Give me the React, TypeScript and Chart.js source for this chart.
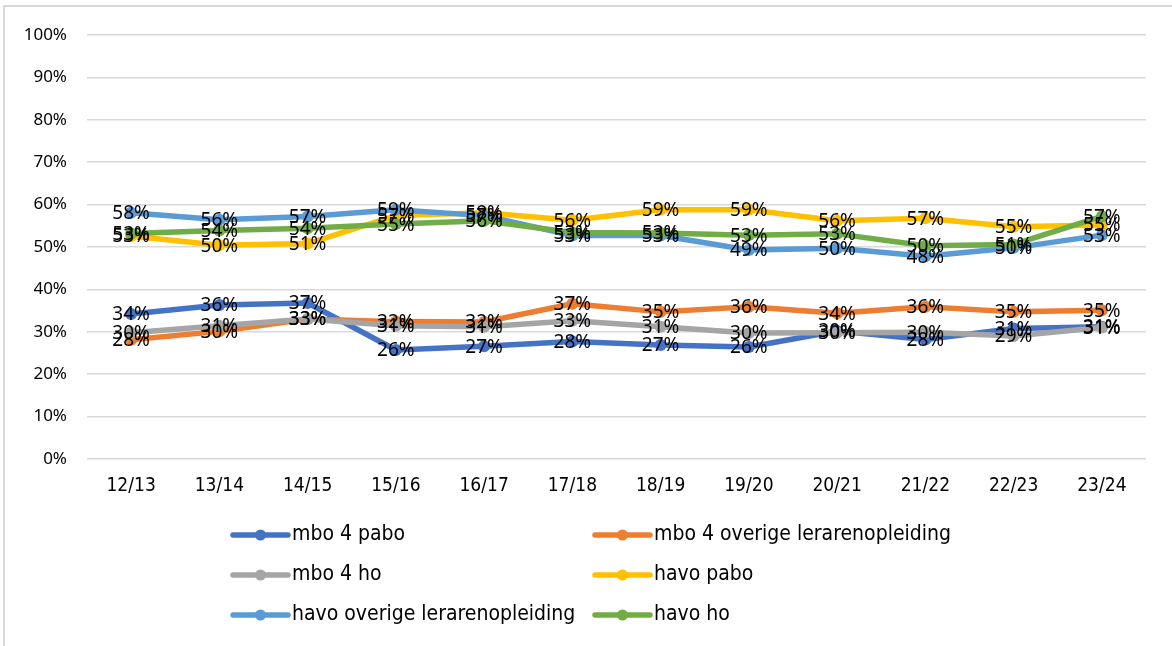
import React, { useEffect, useRef } from "react";
import { Chart, registerables } from "chart.js";

Chart.register(...registerables);

const categories = ["12/13", "13/14", "14/15", "15/16", "16/17", "17/18", "18/19", "19/20", "20/21", "21/22", "22/23", "23/24"];

const seriesNames = [
  "mbo 4 pabo",
  "mbo 4 overige lerarenopleiding",
  "mbo 4 ho",
  "havo pabo",
  "havo overige lerarenopleiding",
  "havo ho",
];

const mboPabo = [34.2, 36.3, 36.8, 25.7, 26.6, 27.7, 26.9, 26.4, 30.2, 28.2, 30.8, 31.2];
const mboOverig = [28.1, 30.1, 33.0, 32.4, 32.3, 36.6, 34.7, 35.9, 34.4, 35.9, 34.7, 35.1];
const mboHo = [29.8, 31.4, 33.0, 31.4, 31.2, 32.6, 31.2, 29.7, 29.8, 29.9, 29.0, 31.0];
const havoPabo = [52.6, 50.4, 50.8, 57.4, 58.1, 56.3, 58.8, 58.8, 56.2, 56.8, 54.8, 55.2];
const havoOverig = [58.1, 56.4, 57.2, 58.8, 57.4, 52.7, 52.7, 49.3, 49.7, 47.8, 49.8, 52.8];
const havoHo = [53.2, 53.9, 54.4, 55.4, 56.2, 53.4, 53.3, 52.8, 53.1, 50.3, 50.6, 57.2];

const seriesValues = [mboPabo, mboOverig, mboHo, havoPabo, havoOverig, havoHo];
const seriesColors = ["#4472C4", "#ED7D31", "#A5A5A5", "#FFC000", "#5B9BD5", "#70AD47"];

const yMin = 0;
const yMax = 100;
const yStep = 10;

const LABEL_FONT = '19px "Noto Sans"';
const LEGEND_FONT = '21px "DejaVu Sans Condensed"';

const dataLabelPlugin = {
  id: "dataLabels",
  afterDatasetsDraw(chart: any) {
    const ctx = chart.ctx;
    ctx.save();
    ctx.font = LABEL_FONT;
    ctx.fillStyle = "#000000";
    ctx.textAlign = "center";
    ctx.textBaseline = "middle";
    chart.data.datasets.forEach((ds: any, i: number) => {
      const meta = chart.getDatasetMeta(i);
      meta.data.forEach((pt: any, j: number) => {
        ctx.fillText(Math.round(ds.data[j]) + "%", pt.x, pt.y + 1);
      });
    });
    ctx.restore();
  },
};

const gridLegendPlugin = {
  id: "gridLegend",
  afterDraw(chart: any) {
    const ctx = chart.ctx;
    const colX = [233, 595];
    const rowY = [535, 575, 615];
    const lineLen = 55;
    ctx.save();
    chart.data.datasets.forEach((ds: any, i: number) => {
      const x = colX[i % 2];
      const y = rowY[Math.floor(i / 2)];
      ctx.strokeStyle = ds.borderColor;
      ctx.lineWidth = 5.5;
      ctx.lineCap = "round";
      ctx.beginPath();
      ctx.moveTo(x, y);
      ctx.lineTo(x + lineLen, y);
      ctx.stroke();
      ctx.fillStyle = ds.borderColor;
      ctx.beginPath();
      ctx.arc(x + lineLen / 2, y, 5.5, 0, Math.PI * 2);
      ctx.fill();
      ctx.fillStyle = "#000000";
      ctx.font = LEGEND_FONT;
      ctx.textAlign = "left";
      ctx.textBaseline = "middle";
      ctx.fillText(ds.label, x + lineLen + 4, y);
    });
    ctx.restore();
  },
};

export default function App() {
  const canvasRef = useRef<HTMLCanvasElement | null>(null);

  useEffect(() => {
    if (!canvasRef.current) return;
    const chart = new Chart(canvasRef.current, {
      type: "line",
      data: {
        labels: categories,
        datasets: seriesNames.map((name, i) => ({
          label: name,
          data: seriesValues[i],
          borderColor: seriesColors[i],
          backgroundColor: seriesColors[i],
          pointBackgroundColor: seriesColors[i],
          pointBorderColor: seriesColors[i],
          pointBorderWidth: 0,
          pointRadius: 6,
          borderWidth: 5.5,
          borderJoinStyle: "round" as const,
          borderCapStyle: "round" as const,
          tension: 0,
          fill: false,
          order: seriesNames.length - 1 - i,
        })),
      },
      options: {
        responsive: false,
        animation: false,
        layout: { padding: { left: 0, right: 26, top: 35, bottom: 147 } },
        plugins: {
          legend: { display: false },
          tooltip: { enabled: false },
        },
        scales: {
          x: {
            type: "category",
            offset: true,
            grid: { display: false, drawTicks: false },
            border: { display: false },
            ticks: {
              color: "#000000",
              font: { family: "DejaVu Sans Condensed", size: 19 },
              padding: 16,
              maxRotation: 0,
              autoSkip: false,
            },
            afterFit: (scale: any) => {
              scale.height = 40;
            },
          },
          y: {
            min: yMin,
            max: yMax,
            grid: { color: "#d9d9d9", lineWidth: 1.5, drawTicks: false },
            border: { display: false },
            ticks: {
              stepSize: yStep,
              color: "#000000",
              font: { family: "Noto Sans", size: 17 },
              padding: 20,
              callback: (v: any) => v + "%",
            },
            afterFit: (scale: any) => {
              scale.width = 87;
            },
          },
        },
      },
      plugins: [dataLabelPlugin, gridLegendPlugin],
    });
    return () => chart.destroy();
  }, []);

  return (
    <div style={{ position: "absolute", left: 0, top: 0, width: 1172, height: 646, overflow: "hidden", background: "#ffffff" }}>
      <div
        style={{
          position: "absolute",
          left: 3,
          top: 5,
          width: 1200,
          height: 700,
          borderLeft: "2px solid #d9d9d9",
          borderTop: "2px solid #d9d9d9",
        }}
      />
      <canvas ref={canvasRef} width={1172} height={646} style={{ position: "absolute", left: 0, top: 0 }} />
    </div>
  );
}
